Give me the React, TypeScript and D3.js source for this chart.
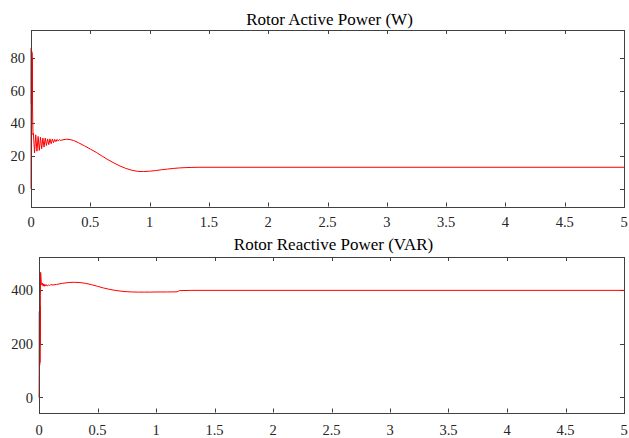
import React, { useEffect, useRef } from "react";
import * as d3 from "d3";

// Rotor active power (W): time (s) and value
const activeT = [0, 0.001, 0.002, 0.003, 0.004, 0.005, 0.006, 0.007, 0.008, 0.009, 0.010, 0.011, 0.012, 0.013, 0.015, 0.017,
  0.02, 0.03, 0.04, 0.05, 0.06, 0.07, 0.08, 0.09, 0.10, 0.11, 0.12, 0.13, 0.14, 0.15, 0.16, 0.17, 0.18, 0.19, 0.20, 0.21, 0.22, 0.23, 0.24, 0.25,
  0.27, 0.30, 0.33, 0.36, 0.40, 0.45, 0.50, 0.55, 0.60, 0.65, 0.70, 0.75, 0.80, 0.85, 0.90, 0.95, 1.00, 1.05, 1.10, 1.15, 1.20, 1.25, 1.30, 1.35, 1.40, 5.0];
const activeP = [0, 50, 86, 52, 85, 53, 84, 55, 83, 56, 80, 58, 75, 50, 40, 33,
  34, 22, 33, 23, 32, 23.5, 31.5, 24.5, 31, 25.5, 31, 26.5, 30.5, 27, 30.5, 27.6, 30.4, 28.2, 30.2, 28.8, 30.2, 29.2, 30.1, 29.6,
  30.0, 30.3, 30.1, 29.5, 28.2, 26.3, 24.3, 22.3, 20.0, 17.8, 15.8, 14.0, 12.5, 11.4, 10.7, 10.6, 10.8, 11.2, 11.7, 12.1, 12.5, 12.8, 13.0, 13.1, 13.2, 13.2];

// Rotor reactive power (VAR)
const reactiveT = [0, 0.001, 0.002, 0.003, 0.004, 0.005, 0.006, 0.007, 0.008, 0.009, 0.010, 0.012, 0.014, 0.016, 0.018,
  0.02, 0.025, 0.03, 0.035, 0.04, 0.045, 0.05, 0.055, 0.06, 0.07, 0.08, 0.09, 0.10, 0.12, 0.15, 0.20, 0.25, 0.30, 0.35, 0.40, 0.45,
  0.50, 0.55, 0.60, 0.65, 0.70, 0.75, 0.80, 0.85, 0.90, 0.95, 1.00, 1.10, 1.18, 1.20, 1.30, 5.0];
const reactiveQ = [0, 20, 120, 320, 115, 320, 120, 330, 130, 340, 200, 380, 465, 450, 440,
  428, 418, 425, 414, 422, 413, 420, 414, 419, 415, 418, 416, 419, 418, 420, 424, 427, 428, 427, 424, 419,
  413, 407, 402, 398, 395, 393, 392, 391.5, 391.5, 391.5, 392, 392, 392.5, 397, 398, 398];

const xTicks = [0, 0.5, 1, 1.5, 2, 2.5, 3, 3.5, 4, 4.5, 5];
const activeYTicks = [0, 20, 40, 60, 80];
const reactiveYTicks = [0, 200, 400];

const W = 629;
const H = 438;
const FONT = "Liberation Serif, Tinos, Times New Roman, Times, DejaVu Serif, serif";
const AXIS = "#404040";
const TEXT = "#262626";

type Panel = {
  title: string;
  t: number[];
  v: number[];
  yTicks: number[];
  yDomain: [number, number];
  left: number;
  right: number;
  top: number;
  bottom: number;
  titleY: number;
  xLabelY: number;
};

const panels: Panel[] = [
  { title: "Rotor Active Power (W)", t: activeT, v: activeP, yTicks: activeYTicks, yDomain: [-10.7, 96.9],
    left: 31, right: 624, top: 30, bottom: 206.5, titleY: 25, xLabelY: 227 },
  { title: "Rotor Reactive Power (VAR)", t: reactiveT, v: reactiveQ, yTicks: reactiveYTicks, yDomain: [-56, 522],
    left: 39, right: 624, top: 257, bottom: 412.5, titleY: 250, xLabelY: 435 },
];

export default function App() {
  const ref = useRef<SVGSVGElement | null>(null);
  useEffect(() => {
    const svg = d3.select(ref.current);
    svg.selectAll("*").remove();
    panels.forEach((p) => {
      const x = d3.scaleLinear().domain([0, 5]).range([p.left, p.right]);
      const y = d3.scaleLinear().domain(p.yDomain).range([p.bottom, p.top]);
      const g = svg.append("g");
      const tl = 4;
      xTicks.forEach((tv) => {
        const xp = Math.round(x(tv)) + 0.5;
        g.append("line").attr("x1", xp).attr("x2", xp).attr("y1", p.bottom).attr("y2", p.bottom - tl)
          .attr("stroke", AXIS).attr("stroke-width", 1);
        g.append("line").attr("x1", xp).attr("x2", xp).attr("y1", p.top).attr("y2", p.top + tl)
          .attr("stroke", AXIS).attr("stroke-width", 1);
        g.append("text").attr("x", x(tv)).attr("y", p.xLabelY).attr("text-anchor", "middle")
          .style("font-family", FONT).style("font-size", "14.5px").attr("fill", TEXT).text(String(tv));
      });
      p.yTicks.forEach((tv) => {
        const yp = Math.round(y(tv)) + 0.5;
        g.append("line").attr("x1", p.left).attr("x2", p.left + tl).attr("y1", yp).attr("y2", yp)
          .attr("stroke", AXIS).attr("stroke-width", 1);
        g.append("line").attr("x1", p.right).attr("x2", p.right - tl).attr("y1", yp).attr("y2", yp)
          .attr("stroke", AXIS).attr("stroke-width", 1);
        g.append("text").attr("x", p.left - 6).attr("y", y(tv)).attr("dy", "0.35em").attr("text-anchor", "end")
          .style("font-family", FONT).style("font-size", "14.5px").attr("fill", TEXT).text(String(tv));
      });
      const data = p.t.map((tt, i) => [tt, p.v[i]] as [number, number]);
      const line = d3.line<[number, number]>().x((d) => x(d[0])).y((d) => y(d[1]));
      g.append("path").datum(data).attr("d", line).attr("fill", "none").attr("stroke", "#ff0000")
        .attr("stroke-width", 1).attr("stroke-linejoin", "round");
      g.append("rect").attr("x", Math.round(p.left) + 0.5).attr("y", Math.round(p.top) + 0.5)
        .attr("width", Math.round(p.right - p.left)).attr("height", Math.round(p.bottom - p.top))
        .attr("fill", "none").attr("stroke", AXIS).attr("stroke-width", 1);
      g.append("text").attr("x", (p.left + p.right) / 2 + 2).attr("y", p.titleY).attr("text-anchor", "middle")
        .style("font-family", FONT).style("font-size", "17px").attr("fill", "#000").text(p.title);
    });
  }, []);
  return (
    <svg ref={ref} width={W} height={H} style={{ position: "absolute", left: 0, top: 0, background: "#fff" }} />
  );
}
